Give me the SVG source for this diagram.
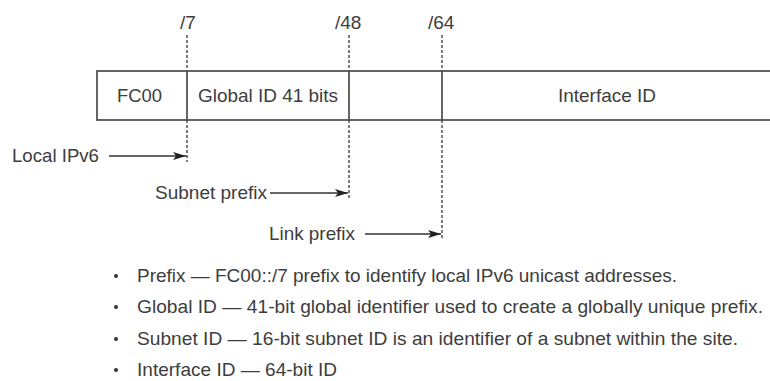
<svg xmlns="http://www.w3.org/2000/svg" width="770" height="381" viewBox="0 0 770 381">
<style>
text{font-family:"Liberation Sans",Arial,sans-serif;font-size:19px;fill:#3d3d3d}
.box{fill:#fff;stroke:#555;stroke-width:1.8}
.div{stroke:#555;stroke-width:1.8}
.dash{stroke:#444;stroke-width:1.4;stroke-dasharray:3 2;fill:none}
.arr{stroke:#333;stroke-width:1.3;fill:none;marker-end:url(#ah)}
.dot{fill:#333}
</style>
<defs>
<marker id="ah" viewBox="0 0 13 8" refX="13" refY="4" markerWidth="13" markerHeight="8" markerUnits="userSpaceOnUse" orient="auto">
<path d="M0,0 L13,4 L0,8 L3,4 z" fill="#222"/>
</marker>
</defs>
<rect width="770" height="381" fill="#fff"/>
<g id="labels-top">
<text x="180" y="29">/7</text>
<text x="335" y="29">/48</text>
<text x="428" y="29">/64</text>
</g>
<g id="address">
<rect class="box" x="97" y="71" width="680" height="49"/>
<line class="div" x1="187" y1="71" x2="187" y2="120"/>
<line class="div" x1="349" y1="71" x2="349" y2="120"/>
<line class="div" x1="442" y1="71" x2="442" y2="120"/>
</g>
<g id="fc00"><text x="117" y="102" textLength="45" lengthAdjust="spacingAndGlyphs">FC00</text></g>
<g id="global-id"><text x="198" y="102" textLength="140" lengthAdjust="spacingAndGlyphs">Global ID 41 bits</text></g>
<g id="interface-id"><text x="558" y="102" textLength="98" lengthAdjust="spacingAndGlyphs">Interface ID</text></g>
<g id="local-ipv6"><text x="12" y="162" textLength="87" lengthAdjust="spacingAndGlyphs">Local IPv6</text></g>
<g id="subnet-prefix"><text x="155" y="199" textLength="112" lengthAdjust="spacingAndGlyphs">Subnet prefix</text></g>
<g id="link-prefix"><text x="269" y="240" textLength="86" lengthAdjust="spacingAndGlyphs">Link prefix</text></g>
<g id="connectors">
<line class="dash" x1="187" y1="35" x2="187" y2="71"/>
<line class="dash" x1="187" y1="120" x2="187" y2="162"/>
<line class="dash" x1="349" y1="35" x2="349" y2="71"/>
<line class="dash" x1="349" y1="120" x2="349" y2="199"/>
<line class="dash" x1="442" y1="35" x2="442" y2="71"/>
<line class="dash" x1="442" y1="120" x2="442" y2="238"/>
<line class="arr" x1="109" y1="156" x2="186" y2="156"/>
<line class="arr" x1="270" y1="193" x2="348" y2="193"/>
<line class="arr" x1="365" y1="234" x2="441" y2="234"/>
</g>
<g id="notes">
<circle class="dot" cx="116" cy="276" r="2"/>
<text x="137" y="282" textLength="540" lengthAdjust="spacingAndGlyphs">Prefix — FC00::/7 prefix to identify local IPv6 unicast addresses.</text>
<circle class="dot" cx="116" cy="307" r="2"/>
<text x="137" y="313" textLength="626" lengthAdjust="spacingAndGlyphs">Global ID — 41-bit global identifier used to create a globally unique prefix.</text>
<circle class="dot" cx="116" cy="339" r="2"/>
<text x="137" y="345" textLength="601" lengthAdjust="spacingAndGlyphs">Subnet ID — 16-bit subnet ID is an identifier of a subnet within the site.</text>
<circle class="dot" cx="116" cy="370" r="2"/>
<text x="137" y="376" textLength="200" lengthAdjust="spacingAndGlyphs">Interface ID — 64-bit ID</text>
</g>
</svg>
